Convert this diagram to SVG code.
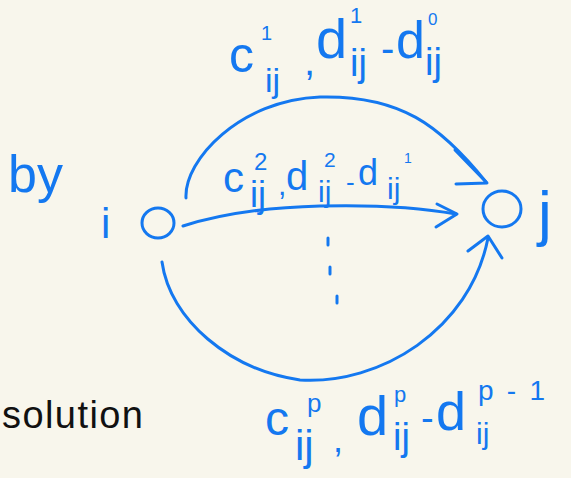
<svg xmlns="http://www.w3.org/2000/svg" width="571" height="478" viewBox="0 0 571 478">
<style>
.bg{fill:#f8f6ec}
.ink{fill:none;stroke:#1478f0;stroke-width:3;stroke-linecap:round;stroke-linejoin:round}
.t{font-family:"Liberation Sans",Arial,sans-serif;fill:#1478f0}
.k{font-family:"Liberation Sans",Arial,sans-serif;fill:#111}
</style>
<rect class="bg" x="0" y="0" width="571" height="478"/>
<g id="node-i">
<ellipse class="ink" cx="158" cy="223" rx="16" ry="15"/>
<text class="t" x="101" y="238" font-size="42">i</text>
</g>
<g id="node-j">
<ellipse class="ink" cx="502" cy="209" rx="19" ry="18"/>
<text class="t" x="538" y="234" font-size="62">j</text>
</g>
<g id="connectors">
<path class="ink" d="M186,198 C184,160 240,100 320,97 C400,95 440,125 486,182"/>
<path class="ink" d="M455,150 L487,183 L456,184"/>
<path class="ink" d="M183,226 Q240,208 320,206 T456,214"/>
<path class="ink" d="M437,204 L457,214 L436,227"/>
<path class="ink" d="M162,262 C170,320 230,370 300,380 C380,385 470,330 488,238"/>
<path class="ink" d="M468,251 L488,236 L502,258"/>
<path class="ink" d="M328,238 L328,245 M330,267 L330,274 M337,296 L337,303"/>
</g>
<g id="label-top">
<text class="t" x="229" y="72" font-size="50">c</text>
<text class="t" x="261" y="40" font-size="20">1</text>
<text class="t" x="265" y="92" font-size="34">ij</text>
<text class="t" x="304" y="75" font-size="40">,</text>
<text class="t" x="316" y="58" font-size="56">d</text>
<text class="t" x="350" y="23" font-size="22">1</text>
<text class="t" x="350" y="76" font-size="38">ij</text>
<text class="t" x="381" y="62" font-size="40">-</text>
<text class="t" x="396" y="58" font-size="52">d</text>
<text class="t" x="428" y="25" font-size="17">0</text>
<text class="t" x="425" y="75" font-size="38">ij</text>
</g>
<g id="label-middle">
<text class="t" x="223" y="192" font-size="42">c</text>
<text class="t" x="254" y="170" font-size="24">2</text>
<text class="t" x="250" y="207" font-size="36">ij</text>
<text class="t" x="278" y="195" font-size="30">,</text>
<text class="t" x="286" y="190" font-size="40">d</text>
<text class="t" x="324" y="167" font-size="21">2</text>
<text class="t" x="318" y="202" font-size="30">ij</text>
<text class="t" x="346" y="191" font-size="26">-</text>
<text class="t" x="358" y="185" font-size="36">d</text>
<text class="t" x="404" y="163" font-size="14">1</text>
<text class="t" x="387" y="199" font-size="30">ij</text>
</g>
<g id="label-bottom">
<text class="t" x="265" y="435" font-size="48">c</text>
<text class="t" x="307" y="412" font-size="26">p</text>
<text class="t" x="295" y="460" font-size="42">ij</text>
<text class="t" x="333" y="452" font-size="36">,</text>
<text class="t" x="357" y="435" font-size="56">d</text>
<text class="t" x="394" y="402" font-size="22">p</text>
<text class="t" x="393" y="450" font-size="38">ij</text>
<text class="t" x="421" y="431" font-size="38">-</text>
<text class="t" x="436" y="430" font-size="54">d</text>
<text class="t" x="478" y="400" font-size="28" textLength="67">p-1</text>
<text class="t" x="476" y="444" font-size="30">ij</text>
</g>
<g id="text-by">
<text class="t" x="8" y="192" font-size="52">by</text>
</g>
<g id="text-solution">
<text class="k" x="2" y="428" font-size="38" textLength="141">solution</text>
</g>
</svg>
